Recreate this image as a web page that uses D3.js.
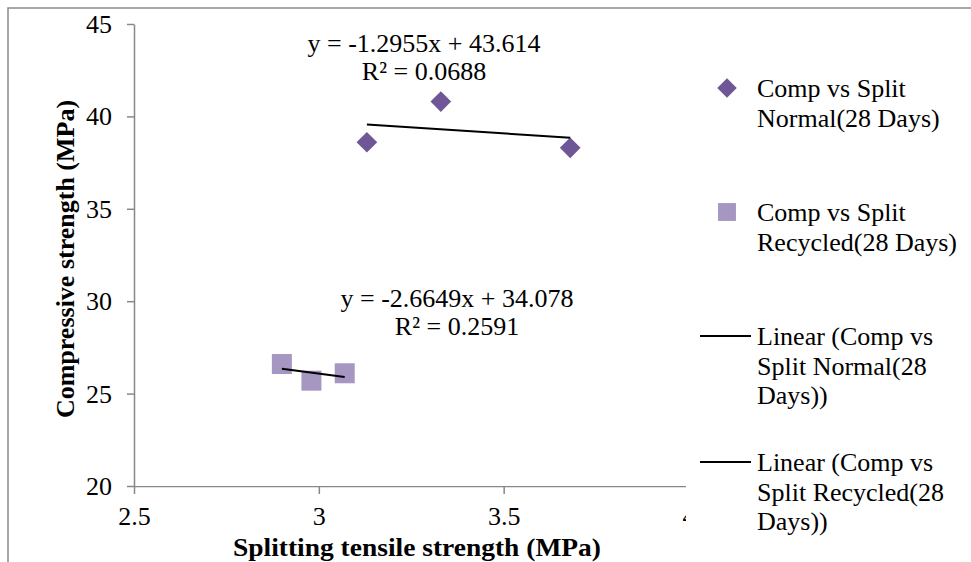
<!DOCTYPE html>
<html>
<head>
<meta charset="utf-8">
<script src="https://cdn.jsdelivr.net/npm/d3@7"></script>
<style>
  html, body { margin: 0; padding: 0; background: #fff; }
  svg { display: block; }
  text { font-family: "Liberation Serif", "Times New Roman", serif; fill: #000; }
</style>
</head>
<body>
<svg id="chart" width="971" height="562"></svg>
<script>
// Splitting tensile strength (MPa) vs compressive strength (MPa), 28 days
const normalX = [3.13, 3.33, 3.68];
const normalY = [38.6, 40.8, 38.3];
const recycledX = [2.90, 2.98, 3.07];
const recycledY = [26.6, 25.7, 26.1];

// Linear trend lines: [slope, intercept, R²]
const normalFit = [-1.2955, 43.614, 0.0688];
const recycledFit = [-2.6649, 34.078, 0.2591];

const xTicks = [2.5, 3, 3.5, 4];
const yTicks = [20, 25, 30, 35, 40, 45];

const legendLabels = [
  ["Comp vs Split", "Normal(28 Days)"],
  ["Comp vs Split", "Recycled(28 Days)"],
  ["Linear (Comp vs", "Split Normal(28", "Days))"],
  ["Linear (Comp vs", "Split Recycled(28", "Days))"]
];

const colorNormal = "#6f5696";
const colorRecycled = "#a597c1";
const axisColor = "#888888";
const fontSize = 26;

const svg = d3.select("#chart");

// outer frame (top and left edges)
svg.append("path")
  .attr("d", "M8,562 L8,8 L971,8")
  .attr("fill", "none")
  .attr("stroke", "#8a8a8a")
  .attr("stroke-width", 1.5);

const x = d3.scaleLinear().domain([2.5, 4]).range([134, 688.5]);
const y = d3.scaleLinear().domain([20, 45]).range([486, 24]);

svg.append("defs").append("clipPath").attr("id", "plotclip")
  .append("rect").attr("x", 0).attr("y", 0).attr("width", 686).attr("height", 562);

// Y axis
const yAxis = svg.append("g")
  .attr("transform", `translate(${x(2.5)},0)`)
  .call(d3.axisLeft(y).tickValues(yTicks).tickSize(7).tickSizeOuter(0).tickFormat(d3.format("d")));
yAxis.select(".domain").attr("stroke", axisColor).attr("stroke-width", 1.5);
yAxis.selectAll(".tick line").attr("stroke", axisColor).attr("stroke-width", 1.5);
yAxis.selectAll(".tick text")
  .attr("x", -22).attr("dy", "0.33em")
  .style("font-size", fontSize + "px").style("font-family", "Liberation Serif").attr("fill", "#000");

// X axis
const xAxis = svg.append("g")
  .attr("clip-path", "url(#plotclip)")
  .attr("transform", `translate(0,${y(20)})`)
  .call(d3.axisBottom(x).tickValues(xTicks).tickSize(8).tickSizeOuter(0).tickFormat(d => d));
xAxis.select(".domain").attr("stroke", axisColor).attr("stroke-width", 1.5);
xAxis.selectAll(".tick line").attr("stroke", axisColor).attr("stroke-width", 1.5);
xAxis.selectAll(".tick text")
  .attr("y", 39).attr("dy", 0)
  .style("font-size", fontSize + "px").style("font-family", "Liberation Serif").attr("fill", "#000");

// axis titles
svg.append("text")
  .attr("x", 417).attr("y", 556)
  .attr("text-anchor", "middle")
  .attr("textLength", 368).attr("lengthAdjust", "spacingAndGlyphs")
  .style("font-size", "26px").style("font-weight", "bold")
  .text("Splitting tensile strength (MPa)");

svg.append("text")
  .attr("transform", "translate(74,259) rotate(-90)")
  .attr("text-anchor", "middle")
  .style("font-size", "26px").style("font-weight", "bold")
  .text("Compressive strength (MPa)");

// trend lines, drawn over the span of each series
function trend(xs, fit) {
  const x0 = d3.min(xs), x1 = d3.max(xs);
  return [[x0, fit[0] * x0 + fit[1]], [x1, fit[0] * x1 + fit[1]]];
}
const line = d3.line().x(d => x(d[0])).y(d => y(d[1]));

// markers
const diamond = d3.symbol().type(d3.symbolSquare).size(214);
const square = d3.symbol().type(d3.symbolSquare).size(400);

svg.append("g").selectAll("path")
  .data(recycledX.map((v, i) => [v, recycledY[i]]))
  .join("path")
  .attr("d", square)
  .attr("transform", d => `translate(${x(d[0])},${y(d[1])})`)
  .attr("fill", colorRecycled);

svg.append("g").selectAll("path")
  .data(normalX.map((v, i) => [v, normalY[i]]))
  .join("path")
  .attr("d", diamond)
  .attr("transform", d => `translate(${x(d[0])},${y(d[1])}) rotate(45)`)
  .attr("fill", colorNormal);

svg.append("path").datum(trend(normalX, normalFit))
  .attr("d", line).attr("fill", "none").attr("stroke", "#000").attr("stroke-width", 2);
svg.append("path").datum(trend(recycledX, recycledFit))
  .attr("d", line).attr("fill", "none").attr("stroke", "#000").attr("stroke-width", 2);

// trend line equations
function eqText(fit) {
  return `y = ${fit[0]}x + ${fit[1]}`;
}
function r2Text(fit) {
  return `R² = ${fit[2]}`;
}
const eqs = [
  { fit: normalFit, cx: 424, y1: 52, y2: 80 },
  { fit: recycledFit, cx: 457, y1: 307, y2: 335 }
];
eqs.forEach(e => {
  svg.append("text").attr("x", e.cx).attr("y", e.y1).attr("text-anchor", "middle")
    .style("font-size", fontSize + "px").text(eqText(e.fit));
  svg.append("text").attr("x", e.cx).attr("y", e.y2).attr("text-anchor", "middle")
    .style("font-size", fontSize + "px").text(r2Text(e.fit));
});

// legend
const legend = svg.append("g");
const legendTop = [97, 221, 345, 471];
const lineH = 29.5;
const textX = 757;
legendLabels.forEach((lines, i) => {
  const t = legend.append("text").attr("x", textX).attr("y", legendTop[i])
    .style("font-size", fontSize + "px");
  lines.forEach((s, j) => {
    t.append("tspan").attr("x", textX).attr("y", legendTop[i] + j * lineH).text(s);
  });
  const cy = legendTop[i] - 9;
  if (i === 0) {
    legend.append("path").attr("d", d3.symbol().type(d3.symbolSquare).size(190))
      .attr("transform", `translate(727,${cy}) rotate(45)`).attr("fill", colorNormal);
  } else if (i === 1) {
    legend.append("path").attr("d", d3.symbol().type(d3.symbolSquare).size(320))
      .attr("transform", `translate(727,${cy})`).attr("fill", colorRecycled);
  } else {
    legend.append("line").attr("x1", 700).attr("x2", 751).attr("y1", cy).attr("y2", cy)
      .attr("stroke", "#000").attr("stroke-width", 2);
  }
});
</script>
</body>
</html>
